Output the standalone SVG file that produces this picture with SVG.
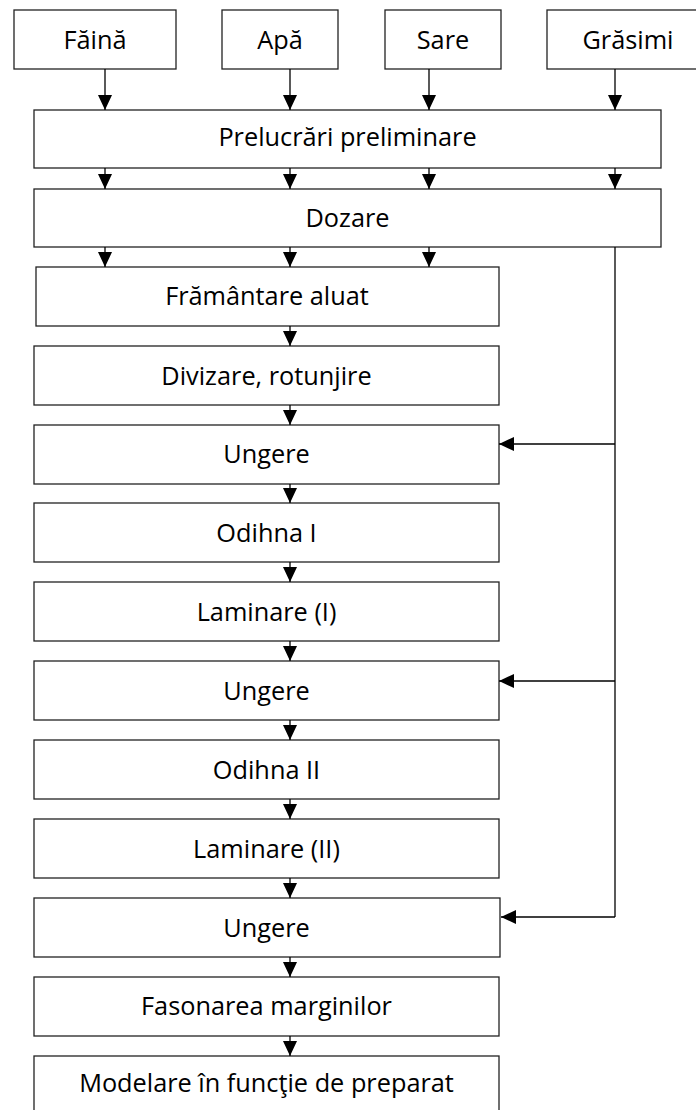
<svg xmlns="http://www.w3.org/2000/svg" width="696" height="1110" viewBox="0 0 696 1110">
<style>
.box{fill:#fff;stroke:#222;stroke-width:1.3}
.lbl{font-family:"Open Sans","Liberation Sans",sans-serif;font-size:25.3px;fill:#000;text-anchor:middle}
.con{fill:none;stroke:#000;stroke-width:1.3}
</style>
<defs>
<marker id="ah" viewBox="0 0 15 14" refX="15" refY="7" markerWidth="15" markerHeight="14" markerUnits="userSpaceOnUse" orient="auto">
<path d="M0,0 L15,7 L0,14 z" fill="#000"/>
</marker>
</defs>
<rect width="696" height="1110" fill="#fff"/>
<g id="n-faina"><rect class="box" x="14" y="10" width="162" height="59"/><text class="lbl" x="95" y="49">Făină</text></g>
<g id="n-apa"><rect class="box" x="222" y="10" width="116" height="59"/><text class="lbl" x="280" y="49">Apă</text></g>
<g id="n-sare"><rect class="box" x="385" y="10" width="116" height="59"/><text class="lbl" x="443" y="49">Sare</text></g>
<g id="n-grasimi"><rect class="box" x="547" y="10" width="163" height="59"/><text class="lbl" x="628" y="49">Grăsimi</text></g>
<g id="n-prelucrari"><rect class="box" x="34" y="110" width="627" height="58"/><text class="lbl" x="347.5" y="146">Prelucrări preliminare</text></g>
<g id="n-dozare"><rect class="box" x="34" y="189" width="627" height="58"/><text class="lbl" x="347.5" y="227">Dozare</text></g>
<g id="n-framantare"><rect class="box" x="36" y="267" width="463" height="59"/><text class="lbl" x="267" y="305">Frământare aluat</text></g>
<g id="n-divizare"><rect class="box" x="34" y="346" width="465" height="59"/><text class="lbl" x="266.5" y="385">Divizare, rotunjire</text></g>
<g id="n-ungere1"><rect class="box" x="34" y="425" width="465" height="59"/><text class="lbl" x="266.5" y="463">Ungere</text></g>
<g id="n-odihna1"><rect class="box" x="34" y="503" width="465" height="59"/><text class="lbl" x="266.5" y="542">Odihna I</text></g>
<g id="n-laminare1"><rect class="box" x="34" y="582" width="465" height="59"/><text class="lbl" x="266.5" y="621">Laminare (I)</text></g>
<g id="n-ungere2"><rect class="box" x="34" y="661" width="465" height="59"/><text class="lbl" x="266.5" y="700">Ungere</text></g>
<g id="n-odihna2"><rect class="box" x="34" y="740" width="465" height="59"/><text class="lbl" x="266.5" y="779">Odihna II</text></g>
<g id="n-laminare2"><rect class="box" x="34" y="819" width="465" height="59"/><text class="lbl" x="266.5" y="858">Laminare (II)</text></g>
<g id="n-ungere3"><rect class="box" x="34" y="898" width="466" height="59"/><text class="lbl" x="266.5" y="937">Ungere</text></g>
<g id="n-fasonare"><rect class="box" x="34" y="977" width="465" height="59"/><text class="lbl" x="266.5" y="1015">Fasonarea marginilor</text></g>
<g id="n-modelare"><rect class="box" x="34" y="1056" width="465" height="70"/><text class="lbl" x="266.5" y="1092">Modelare în funcţie de preparat</text></g>
<g id="connectors">
<path class="con" d="M105,69 V110" marker-end="url(#ah)"/>
<path class="con" d="M290,69 V110" marker-end="url(#ah)"/>
<path class="con" d="M429,69 V110" marker-end="url(#ah)"/>
<path class="con" d="M615,69 V110" marker-end="url(#ah)"/>
<path class="con" d="M105,168 V189" marker-end="url(#ah)"/>
<path class="con" d="M290,168 V189" marker-end="url(#ah)"/>
<path class="con" d="M429,168 V189" marker-end="url(#ah)"/>
<path class="con" d="M615,168 V189" marker-end="url(#ah)"/>
<path class="con" d="M105,247 V267" marker-end="url(#ah)"/>
<path class="con" d="M290,247 V267" marker-end="url(#ah)"/>
<path class="con" d="M429,247 V267" marker-end="url(#ah)"/>
<path class="con" d="M290,326 V346" marker-end="url(#ah)"/>
<path class="con" d="M290,405 V425" marker-end="url(#ah)"/>
<path class="con" d="M290,484 V503" marker-end="url(#ah)"/>
<path class="con" d="M290,562 V582" marker-end="url(#ah)"/>
<path class="con" d="M290,641 V661" marker-end="url(#ah)"/>
<path class="con" d="M290,720 V740" marker-end="url(#ah)"/>
<path class="con" d="M290,799 V819" marker-end="url(#ah)"/>
<path class="con" d="M290,878 V898" marker-end="url(#ah)"/>
<path class="con" d="M290,957 V977" marker-end="url(#ah)"/>
<path class="con" d="M290,1036 V1056" marker-end="url(#ah)"/>
<path class="con" d="M615,247 V917"/>
<path class="con" d="M615,444 H499" marker-end="url(#ah)"/>
<path class="con" d="M615,681 H499" marker-end="url(#ah)"/>
<path class="con" d="M615,917 H501" marker-end="url(#ah)"/>
</g>
</svg>
